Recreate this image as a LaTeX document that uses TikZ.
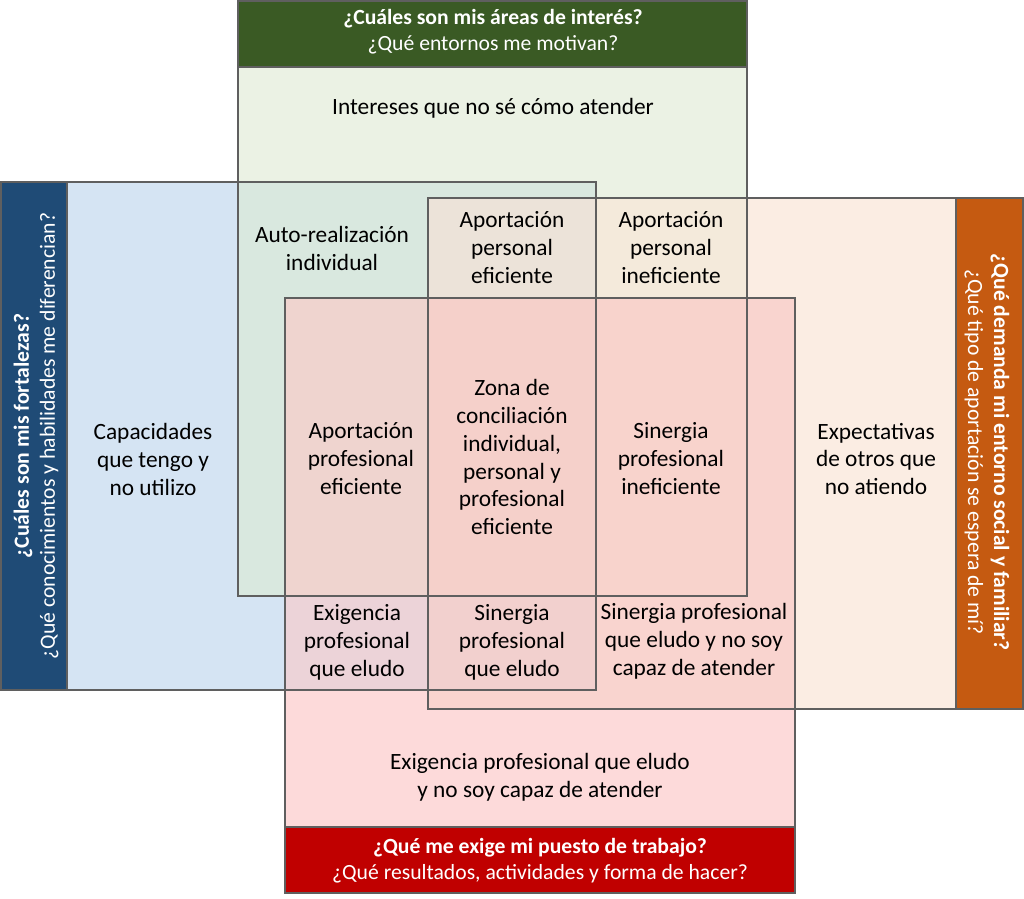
\documentclass[tikz,border=0pt]{standalone}
\usepackage{fontspec}
\setmainfont{Carlito}
\definecolor{frameGray}{HTML}{5F5F5F}
\definecolor{gHead}{HTML}{3A5A24}
\definecolor{bHead}{HTML}{1F4B76}
\definecolor{oHead}{HTML}{C55A11}
\definecolor{rHead}{HTML}{C00000}
\definecolor{cG}{HTML}{EBF2E4}
\definecolor{cB}{HTML}{D5E4F3}
\definecolor{cO}{HTML}{FBEDE3}
\definecolor{cR}{HTML}{FDDADA}
\definecolor{cGB}{HTML}{D9E8DF}
\definecolor{cGO}{HTML}{F4EADB}
\definecolor{cBR}{HTML}{ECD3D8}
\definecolor{cOR}{HTML}{F9D4CF}
\definecolor{cGBO}{HTML}{ECE3D9}
\definecolor{cGBR}{HTML}{EFD4CF}
\definecolor{cGOR}{HTML}{F8D3CC}
\definecolor{cBOR}{HTML}{F2D0CE}
\definecolor{cGBOR}{HTML}{F5D0CA}
\begin{document}
\begin{tikzpicture}[x=0.025cm,y=-0.025cm,
    frame/.style={draw=frameGray,line width=1.3pt},
    txt/.style={align=center,inner sep=0pt,font=\fontsize{16.6}{19.9}\selectfont},
    hd/.style={align=center,inner sep=0pt,text=white,font=\fontsize{15.4}{18.5}\selectfont}]
    \useasboundingbox (0,0) rectangle (1024,899);
    % fields and their overlaps
    \foreach \col/\xa/\ya/\xb/\yb in {cG/238/1/747/596,cB/1/182/596/690,cO/428/198/1023/709,cR/285/298/795/893,
        cGB/238/182/596/596,cGO/428/198/747/596,cBR/285/298/596/690,cOR/428/298/795/709,
        cGBO/428/198/596/596,cGBR/285/298/596/596,cGOR/428/298/747/596,cBOR/428/298/596/690,
        cGBOR/428/298/596/596}
        \fill[\col] (\xa,\ya) rectangle (\xb,\yb);
    % headers
    \fill[gHead] (238,1) rectangle (747,67);
    \fill[bHead] (1,182) rectangle (67,690);
    \fill[oHead] (956,198) rectangle (1023,709);
    \fill[rHead] (285,827) rectangle (795,893);
    \foreach \xa/\ya/\xb/\yb in {238/1/747/596,1/182/596/690,428/198/1023/709,285/298/795/893}
        \draw[frame] (\xa,\ya) rectangle (\xb,\yb);
    \draw[frame] (238,67)--(747,67);
    \draw[frame] (67,182)--(67,690);
    \draw[frame] (956,198)--(956,709);
    \draw[frame] (285,827)--(795,827);
    \node[hd](hG)at(493,32){\textbf{¿Cuáles son mis áreas de interés?}\\¿Qué entornos me motivan?};
    \node[hd,rotate=90](hB)at(36,436){\textbf{¿Cuáles son mis fortalezas?}\\¿Qué conocimientos y habilidades me diferencian?};
    \node[hd,rotate=-90](hO)at(987,452){\textbf{¿Qué demanda mi entorno social y familiar?}\\¿Qué tipo de aportación se espera de mí?};
    \node[hd](hR)at(540,861){\textbf{¿Qué me exige mi puesto de trabajo?}\\¿Qué resultados, actividades y forma de hacer?};
    % zones
    \node[txt](int)at(493,108){Intereses que no sé cómo atender};
    \node[txt](auto)at(332,248){Auto-realización\\individual};
    \node[txt](apE)at(512,248){Aportación\\personal\\eficiente};
    \node[txt](apI)at(671,248){Aportación\\personal\\ineficiente};
    \node[txt](cap)at(153,459){Capacidades\\que tengo y\\no utilizo};
    \node[txt](aprE)at(361,459){Aportación\\profesional\\eficiente};
    \node[txt](zona)at(512,457){Zona de\\conciliación\\individual,\\personal y\\profesional\\eficiente};
    \node[txt](sinI)at(671,459){Sinergia\\profesional\\ineficiente};
    \node[txt](exp)at(876,459){Expectativas\\de otros que\\no atiendo};
    \node[txt](exE)at(357,642){Exigencia\\profesional\\que eludo};
    \node[txt](sinE)at(512,642){Sinergia\\profesional\\que eludo};
    \node[txt](sinN)at(694,641){Sinergia profesional\\que eludo y no soy\\capaz de atender};
    \node[txt](exN)at(540,777){Exigencia profesional que eludo\\y no soy capaz de atender};
\end{tikzpicture}
\end{document}
